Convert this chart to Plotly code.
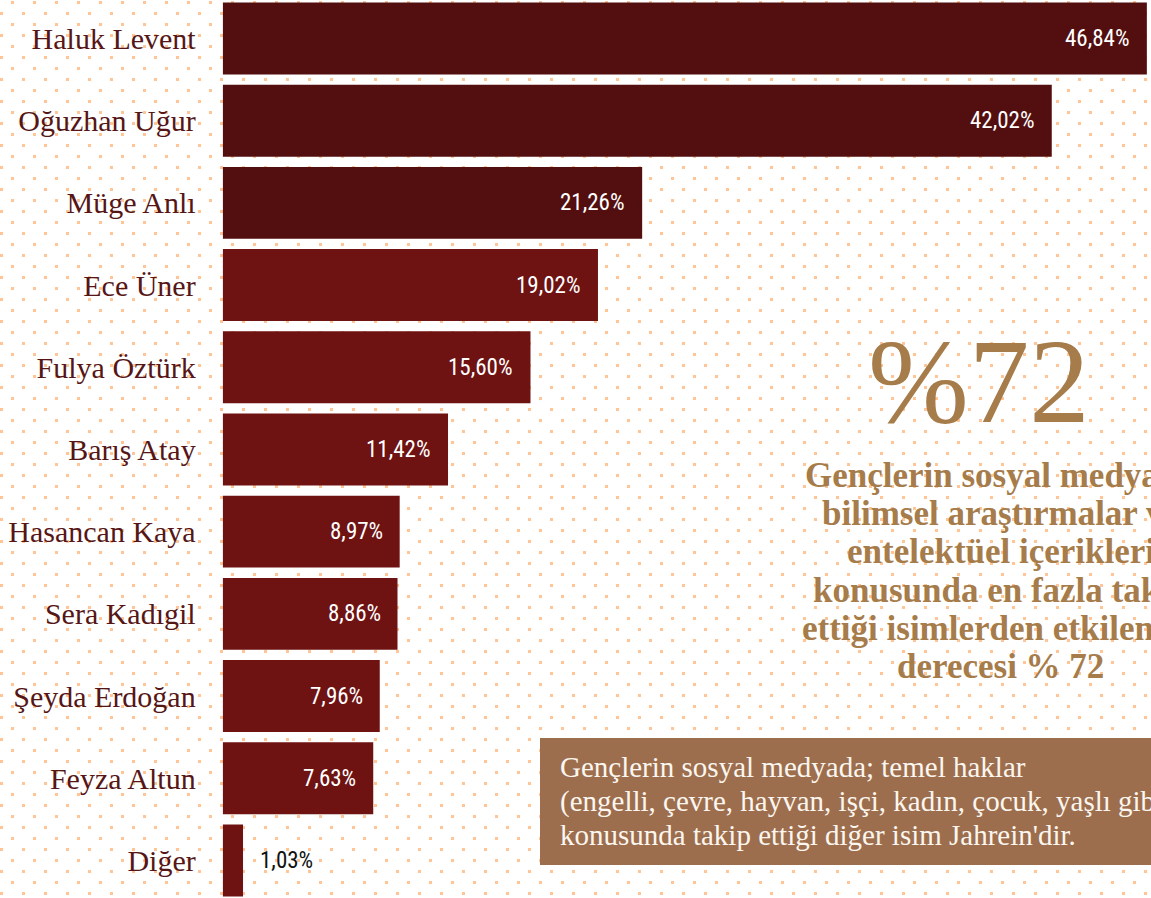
import base64
import plotly.graph_objects as go

# ---------------- data ----------------
names = ["Haluk Levent", "Oğuzhan Uğur", "Müge Anlı", "Ece Üner", "Fulya Öztürk",
         "Barış Atay", "Hasancan Kaya", "Sera Kadıgil", "Şeyda Erdoğan", "Feyza Altun", "Diğer"]
values = [46.84, 42.02, 21.26, 19.02, 15.60, 11.42, 8.97, 8.86, 7.96, 7.63, 1.03]
value_labels = ["46,84%", "42,02%", "21,26%", "19,02%", "15,60%", "11,42%",
                "8,97%", "8,86%", "7,96%", "7,63%", "1,03%"]

big_number = "%72"
bold_lines = ["Gençlerin sosyal medyada", "bilimsel araştırmalar ve", "entelektüel içerikleri",
              "konusunda en fazla takip", "ettiği isimlerden etkilenme", "derecesi % 72"]
box_lines = ["Gençlerin sosyal medyada; temel haklar",
             "(engelli, çevre, hayvan, işçi, kadın, çocuk, yaşlı gibi)",
             "konusunda takip ettiği diğer isim Jahrein'dir."]

# ---------------- styling ----------------
W, H = 1151, 898
DARK = "#530f0f"
RED = "#6e1212"
GOLD = "#a67c4a"
BOX = "#9d6e4d"
LABEL = "#561616"
NARROW = ("Noto Sans ExtraCondensed, Noto Sans Condensed, Roboto Condensed, "
          "Liberation Sans Narrow, DejaVu Sans Condensed, sans-serif")

bar_colors = [DARK if i < 3 else RED for i in range(len(values))]

# dotted background texture (decoration)
svg = (
    f'<svg xmlns="http://www.w3.org/2000/svg" width="{W}" height="{H}" viewBox="0 0 {W} {H}">'
    '<defs><pattern id="p" width="22" height="22" patternUnits="userSpaceOnUse">'
    '<rect x="0" y="12" width="3" height="3" fill="#ffc597"/>'
    '<rect x="11" y="1" width="3" height="3" fill="#ffc597"/>'
    '</pattern></defs>'
    f'<rect width="{W}" height="{H}" fill="#ffffff"/>'
    f'<rect width="{W}" height="{H}" fill="url(#p)"/></svg>'
)
bg_src = "data:image/svg+xml;base64," + base64.b64encode(svg.encode()).decode()

fig = go.Figure()
fig.add_trace(go.Bar(
    y=names, x=values, orientation="h",
    marker=dict(color=bar_colors, line=dict(width=0)),
    hoverinfo="skip",
))

annotations = []
for n, v, t in zip(names, values, value_labels):
    inside = v > 3
    annotations.append(dict(
        x=v, y=n, xref="x", yref="y", text=t, showarrow=False,
        xanchor="right" if inside else "left",
        xshift=-15 if inside else 15,
        yanchor="middle",
        font=dict(family=NARROW, size=23, color="#ffffff" if inside else "#111111"),
    ))

# big number
annotations.append(dict(
    x=979 / W, y=1 - 381 / H, xref="paper", yref="paper", text=big_number,
    showarrow=False, xanchor="center", yanchor="middle",
    font=dict(family="Liberation Serif, serif", size=121, color=GOLD),
))

# bold paragraph (centred lines)
bold_baselines = [487, 525, 563, 602, 640, 678]
for line, b in zip(bold_lines, bold_baselines):
    annotations.append(dict(
        x=1001 / W, y=1 - (b - 11.5) / H, xref="paper", yref="paper",
        text="<b>" + line + "</b>", showarrow=False,
        xanchor="center", yanchor="middle",
        font=dict(family="Liberation Serif, serif", size=35, color=GOLD),
    ))

# box text
box_baselines = [777, 811, 845]
for line, b in zip(box_lines, box_baselines):
    annotations.append(dict(
        x=558 / W, y=1 - (b - 9.8) / H, xref="paper", yref="paper",
        text=line, showarrow=False, xanchor="left", yanchor="middle",
        font=dict(family="Liberation Serif, serif", size=29, color="#fbf6ef"),
    ))

shapes = [dict(type="rect", xref="paper", yref="paper",
               x0=540 / W, x1=1.02, y0=1 - 865 / H, y1=1 - 738 / H,
               fillcolor=BOX, line=dict(width=0), layer="below")]

fig.update_layout(
    width=W, height=H,
    margin=dict(l=0, r=0, t=0, b=0),
    paper_bgcolor="#ffffff",
    plot_bgcolor="rgba(0,0,0,0)",
    showlegend=False,
    bargap=0.125,
    images=[dict(source=bg_src, xref="paper", yref="paper", x=0, y=1,
                 sizex=1, sizey=1, sizing="stretch", xanchor="left", yanchor="top",
                 layer="below")],
    shapes=shapes,
    annotations=annotations,
    xaxis=dict(domain=[222.7 / W, 1], range=[0, 47.05], visible=False, fixedrange=True),
    yaxis=dict(range=[10.457, -0.468], showgrid=False, zeroline=False, showline=False,
               ticks="", ticklabelstandoff=26, automargin=False, fixedrange=True,
               tickfont=dict(family="Liberation Serif, serif", size=30, color=LABEL)),
)

fig.write_html("out.html", config={"displayModeBar": False},
               post_script="document.body.style.margin='0';document.body.style.overflow='hidden';")
